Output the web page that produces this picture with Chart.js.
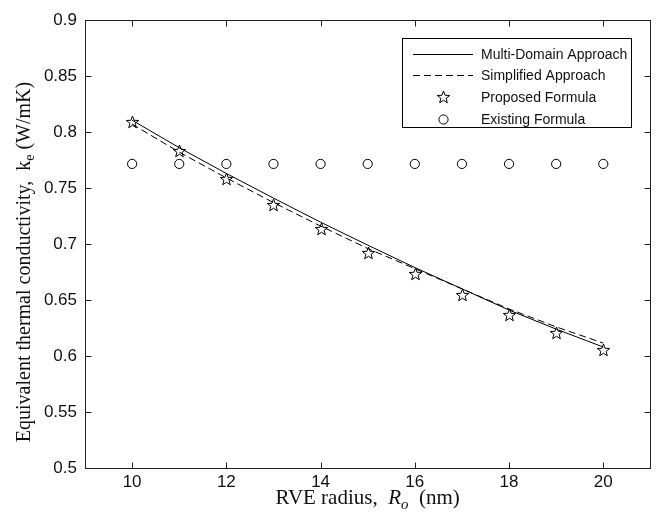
<!DOCTYPE html>
<html>
<head>
<meta charset="utf-8">
<script src="https://cdn.jsdelivr.net/npm/chart.js@4.4.0/dist/chart.umd.min.js"></script>
<style>
  html, body { margin: 0; padding: 0; background: #fff; }
</style>
</head>
<body>
<canvas id="lineChart" width="656" height="518"></canvas>
<script>
// RVE radius (nm)
const radius = [10, 11, 12, 13, 14, 15, 16, 17, 18, 19, 20];
const multiDomain = [0.8105, 0.786, 0.763, 0.741, 0.7195, 0.699, 0.679, 0.660, 0.641, 0.624, 0.608];
const simplified = [0.807, 0.782, 0.759, 0.737, 0.716, 0.696, 0.678, 0.660, 0.642, 0.626, 0.6115];
const proposed = [0.809, 0.783, 0.758, 0.735, 0.713, 0.692, 0.6735, 0.6545, 0.637, 0.6205, 0.6055];
const existing = [0.7715, 0.7715, 0.7715, 0.7715, 0.7715, 0.7715, 0.7715, 0.7715, 0.7715, 0.7715, 0.7715];

const xTicks = [10, 12, 14, 16, 18, 20];
const yTicks = [0.5, 0.55, 0.6, 0.65, 0.7, 0.75, 0.8, 0.85, 0.9];
const legendLabels = ["Multi-Domain Approach", "Simplified Approach", "Proposed Formula", "Existing Formula"];

const SERIF = "'Liberation Serif', 'Times New Roman', serif";

// outline of a 5-point star, drawn on crisp pixels
function drawStar(g, cx, cy, r) {
    const inner = r * 0.42;
    g.beginPath();
    for (let i = 0; i < 10; i++) {
        const rr = i % 2 === 0 ? r : inner;
        const a = -Math.PI / 2 + i * Math.PI / 5;
        const px = cx + rr * Math.cos(a);
        const py = cy + rr * Math.sin(a);
        if (i === 0) g.moveTo(px, py); else g.lineTo(px, py);
    }
    g.closePath();
    g.strokeStyle = "#000";
    g.lineWidth = 1;
    g.stroke();
}

const pts = arr => radius.map((x, i) => ({ x: x, y: arr[i] }));

function drawParts(ctx, parts, cx, baseY) {
    let total = 0;
    parts.forEach(p => { ctx.font = p.f; total += ctx.measureText(p.t).width; });
    let x = cx - total / 2;
    ctx.textAlign = "left";
    parts.forEach(p => {
        ctx.font = p.f;
        ctx.fillText(p.t, x, baseY + p.dy);
        x += ctx.measureText(p.t).width;
    });
}

const framePlugin = {
    id: "frame",
    afterDatasetsDraw(chart) {
        // stars for the proposed formula, at the positions the scales give
        const meta = chart.getDatasetMeta(2);
        const ctx = chart.ctx;
        ctx.save();
        meta.data.forEach(el => {
            drawStar(ctx, Math.round(el.x) + 0.5, Math.round(el.y) + 0.5, 6.5);
        });
        ctx.restore();
    },
    afterDraw(chart) {
        const ctx = chart.ctx;
        const a = chart.chartArea;
        const xs = chart.scales.x, ys = chart.scales.y;
        const L = Math.round(a.left) + 0.5, R = Math.round(a.right) + 0.5;
        const T = Math.round(a.top) + 0.5, B = Math.round(a.bottom) + 0.5;
        ctx.save();
        ctx.strokeStyle = "#222";
        ctx.lineWidth = 1;
        ctx.strokeRect(L, T, R - L, B - T);
        ctx.beginPath();
        xTicks.forEach(v => {
            const px = Math.round(xs.getPixelForValue(v)) + 0.5;
            ctx.moveTo(px, B); ctx.lineTo(px, B - 6);
            ctx.moveTo(px, T); ctx.lineTo(px, T + 6);
        });
        yTicks.forEach(v => {
            const py = Math.round(ys.getPixelForValue(v)) + 0.5;
            ctx.moveTo(L, py); ctx.lineTo(L + 6, py);
            ctx.moveTo(R, py); ctx.lineTo(R - 6, py);
        });
        ctx.stroke();

        // axis titles
        ctx.fillStyle = "#111";
        ctx.textBaseline = "alphabetic";
        const xParts = [
            { t: "RVE radius,  ", f: "21px " + SERIF, dy: 0 },
            { t: "R", f: "italic 21px " + SERIF, dy: 0 },
            { t: "o", f: "italic 15px " + SERIF, dy: 5 },
            { t: "  (nm)", f: "21px " + SERIF, dy: 0 }
        ];
        drawParts(ctx, xParts, (a.left + a.right) / 2, 504);

        ctx.save();
        ctx.translate(30, (a.top + a.bottom) / 2 + 18);
        ctx.rotate(-Math.PI / 2);
        const yParts = [
            { t: "Equivalent thermal conductivity,  k", f: "20px " + SERIF, dy: 0 },
            { t: "e", f: "14px " + SERIF, dy: 4 },
            { t: " (W/mK)", f: "20px " + SERIF, dy: 0 }
        ];
        drawParts(ctx, yParts, 0, 0);
        ctx.restore();

        // legend box
        const bx = 402.5, by = 38.5, bw = 229, bh = 89;
        ctx.fillStyle = "#fff";
        ctx.fillRect(bx, by, bw, bh);
        ctx.strokeStyle = "#000";
        ctx.strokeRect(bx, by, bw, bh);
        const rowY = [54, 75, 97, 119];
        const sx0 = 413, sx1 = 473, mx = 443;
        ctx.font = "14px 'Liberation Sans', Arial, sans-serif";
        ctx.textBaseline = "middle";
        ctx.textAlign = "left";
        chart.data.datasets.forEach((ds, i) => {
            const y = rowY[i] + 0.5;
            if (ds.showLine) {
                ctx.beginPath();
                ctx.setLineDash(ds.borderDash || []);
                ctx.moveTo(sx0, y); ctx.lineTo(sx1, y);
                ctx.strokeStyle = "#000";
                ctx.stroke();
                ctx.setLineDash([]);
            } else if (ds.pointStyle === "circle") {
                ctx.beginPath();
                ctx.arc(mx + 0.5, y, ds.pointRadius, 0, Math.PI * 2);
                ctx.strokeStyle = "#000";
                ctx.stroke();
            } else {
                drawStar(ctx, mx + 0.5, y, 6.5);
            }
            ctx.fillStyle = "#111";
            ctx.fillText(legendLabels[i], 481, rowY[i] + 1);
        });
        ctx.restore();
    }
};

const ctx = document.getElementById("lineChart").getContext("2d");

const lineChart = new Chart(ctx, {
    type: "scatter",
    data: {
        datasets: [{
            label: legendLabels[0],
            data: pts(multiDomain),
            showLine: true,
            borderColor: "#000",
            borderWidth: 1,
            pointRadius: 0
        }, {
            label: legendLabels[1],
            data: pts(simplified),
            showLine: true,
            borderColor: "#000",
            borderWidth: 1,
            borderDash: [7, 4],
            pointRadius: 0
        }, {
            label: legendLabels[2],
            data: pts(proposed),
            showLine: false,
            pointStyle: "star",
            pointRadius: 0
        }, {
            label: legendLabels[3],
            data: pts(existing),
            showLine: false,
            pointStyle: "circle",
            pointRadius: 4.6,
            borderColor: "#000",
            borderWidth: 1,
            backgroundColor: "rgba(0,0,0,0)"
        }]
    },
    options: {
        responsive: false,
        animation: false,
        devicePixelRatio: 1,
        layout: { padding: { left: 0, right: 5, top: 20, bottom: 0 } },
        plugins: {
            legend: { display: false },
            tooltip: { enabled: false }
        },
        scales: {
            x: {
                type: "linear",
                min: 9, max: 21,
                grid: { display: false, drawTicks: false },
                border: { display: false },
                afterBuildTicks: s => { s.ticks = xTicks.map(v => ({ value: v })); },
                afterFit: s => { s.height = 50; },
                ticks: { font: { family: "'Liberation Sans', Arial, sans-serif", size: 17 }, color: "#111", padding: 4, maxRotation: 0 }
            },
            y: {
                type: "linear",
                min: 0.5, max: 0.9,
                grid: { display: false, drawTicks: false },
                border: { display: false },
                afterBuildTicks: s => { s.ticks = yTicks.map(v => ({ value: v })); },
                afterFit: s => { s.width = 85; },
                ticks: {
                    font: { family: "'Liberation Sans', Arial, sans-serif", size: 17 },
                    color: "#111",
                    padding: 8,
                    callback: v => String(+v.toFixed(2))
                }
            }
        }
    },
    plugins: [framePlugin]
});
</script>
</body>
</html>
